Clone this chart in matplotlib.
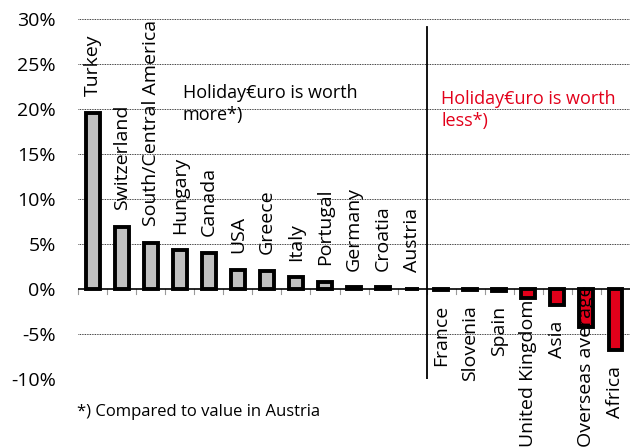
import numpy as np
import matplotlib
matplotlib.use("Agg")
import matplotlib.pyplot as plt

countries = ["Turkey", "Switzerland", "South/Central America", "Hungary", "Canada",
             "USA", "Greece", "Italy", "Portugal", "Germany", "Croatia", "Austria",
             "France", "Slovenia", "Spain", "United Kingdom", "Asia",
             "Overseas average", "Africa"]
values = [19.6, 6.9, 5.1, 4.3, 4.0, 2.1, 2.0, 1.3, 0.8, 0.2, 0.2, 0.0,
          -0.1, -0.1, -0.2, -1.0, -1.8, -4.2, -6.8]
yticks = [-10, -5, 0, 5, 10, 15, 20, 25, 30]

plt.rcParams['font.family'] = ['Open Sans', 'DejaVu Sans']
grey = '#c0c0c0'
red = '#e2001a'

fig = plt.figure(figsize=(6.3, 4.47), dpi=100)
ax = fig.add_axes([0.124, 0.152, 0.876, 0.8055])

x = np.arange(len(countries))
cols = [grey if v >= 0 else red for v in values]
ax.bar(x, values, width=0.48, color=cols, edgecolor='black', linewidth=2.8, zorder=3)

ax.set_xlim(-0.5, len(countries) - 0.5)
ax.set_ylim(-10, 30)
ax.set_yticks(yticks)
ax.set_yticklabels([f"{t}%" for t in yticks], fontsize=14)
ax.tick_params(axis='y', length=0, pad=16)
ax.set_xticks([])
for s in ax.spines.values():
    s.set_visible(False)

for t in yticks:
    if t != 0:
        ax.axhline(t, color='black', lw=0.6, ls=(0, (1, 1)), zorder=1)
ax.axhline(0, color='black', lw=1.2, zorder=4)
# category boundary ticks below zero line
for b in np.arange(-0.5, len(countries) - 0.5, 1.0):
    ax.plot([b, b], [0, -0.6], color='#999999', lw=0.8, zorder=2, clip_on=False)

ax.plot([11.5, 11.5], [-10, 29.1], color='black', lw=1.3, zorder=4)

fig.canvas.draw()
r = fig.canvas.get_renderer()
for i, (c, v) in enumerate(zip(countries, values)):
    if v >= 0:
        ax.annotate(c, (i, v), xytext=(0, 12), textcoords='offset points',
                    rotation=90, ha='center', va='bottom', fontsize=14, zorder=5)
    else:
        t = ax.annotate(c, (i, v), xytext=(0, -11), textcoords='offset points',
                        rotation=90, ha='center', va='top', fontsize=14, zorder=5,
                        annotation_clip=False)
        bb = t.get_window_extent(r)
        if bb.y0 < 0:
            t.set_position((0, -11 - bb.y0 * 72 / 100))

ax.text(3.1, 22.8, "Holiday€uro is worth\nmore*)", fontsize=13, va='top', ha='left',
        linespacing=1.3)
ax.text(12.0, 22.1, "Holiday€uro is worth\nless*)", fontsize=13, va='top', ha='left',
        color=red, linespacing=1.3)

fig.text(0.122, 0.078, "*) Compared to value in Austria", fontsize=12, va='center')

fig.savefig("out.png", dpi=100)
